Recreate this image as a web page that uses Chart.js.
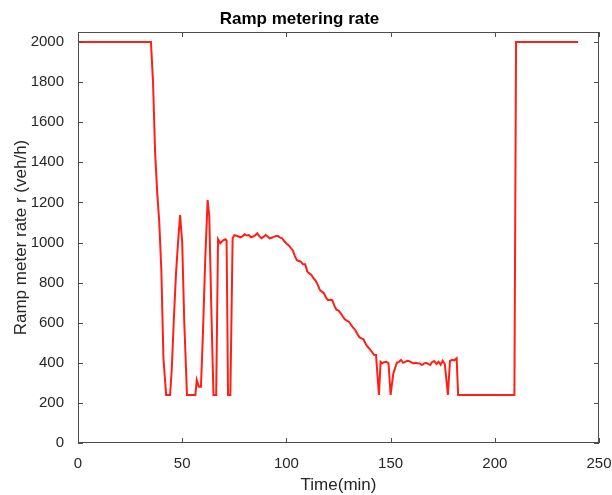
<!DOCTYPE html>
<html>
<head>
<meta charset="utf-8">
<title>Ramp metering rate</title>
<script src="https://cdn.jsdelivr.net/npm/chart.js@4/dist/chart.umd.min.js"></script>
<style>
    html, body { margin: 0; padding: 0; background: #ffffff; }
    #wrap { width: 612px; height: 495px; }
</style>
</head>
<body>
<div id="wrap"><canvas id="rampChart" width="612" height="495"></canvas></div>
<script>
// Temps (min) et débit du ramp metering (veh/h)
const timeMin = [
    0, 35, 36, 37, 38, 39, 40, 41, 42.3, 44.2, 45, 46, 47, 48, 49, 50, 51, 52.3,
    56.3, 57, 58, 59, 60, 61, 62.2, 63, 64, 65, 66.3, 67.2, 68.3, 69.5, 70.7, 71.3, 72, 73.1,
    74.2, 75, 76, 77, 78, 79, 80, 81, 82, 83, 84, 85, 86, 87, 88, 89, 90, 91, 92,
    93, 94, 95, 96, 97, 98, 99, 100, 101, 102, 103, 104, 105, 106, 107, 108, 109,
    110, 111, 112, 113, 114, 115, 116, 117, 118, 119, 120, 121, 122, 123, 124, 125,
    126, 127, 128, 129, 130, 131, 132, 133, 134, 135, 136, 137, 138, 139, 140, 141,
    142, 143, 144.4, 145.2, 146, 147, 148, 149, 150, 151.3, 153, 154, 155, 156,
    157, 158, 159, 160, 161, 162, 163, 164, 165, 166, 167, 168, 169, 170, 171, 172,
    173, 174, 175, 176, 177.5, 178.5, 179.5, 180.5, 181.7, 182.4, 209.4, 210.2, 240
];
const rateVeh = [
    2000, 2000, 1800, 1450, 1250, 1100, 860, 420, 240, 240, 370, 620, 840, 1000, 1137, 1000, 600, 240,
    240, 315, 280, 280, 560, 900, 1212, 1130, 660, 240, 240, 1016, 996, 1010, 1016, 1010, 240, 240,
    1021, 1037, 1034, 1030, 1026, 1032, 1041, 1035, 1037, 1026, 1030, 1035, 1046, 1032, 1021, 1028, 1037, 1030, 1021,
    1024, 1028, 1032, 1032, 1024, 1021, 1006, 995, 987, 975, 962, 935, 912, 908, 904, 891, 891,
    856, 846, 838, 822, 810, 790, 765, 755, 747, 725, 713, 715, 713, 685, 665, 660,
    648, 632, 617, 610, 605, 590, 575, 564, 545, 528, 522, 517, 495, 480, 468, 455,
    440, 439, 240, 405, 398, 403, 405, 398, 240, 347, 400, 405, 414, 400,
    405, 410, 408, 402, 397, 400, 398, 397, 389, 396, 400, 395, 389, 405, 408, 394,
    405, 390, 410, 394, 240, 410, 415, 412, 422, 240, 240, 2000, 2000
];
const xTickValues = [0, 50, 100, 150, 200, 250];
const yTickValues = [0, 200, 400, 600, 800, 1000, 1200, 1400, 1600, 1800, 2000];

const AXIS_COLOR = '#262626';
const BOX_COLOR = '#4d4d4d';
const FONT = 'Liberation Sans, Arial, Helvetica, sans-serif';

/**
 * Cadre style MATLAB : boîte complète et graduations vers l'intérieur
 */
const matlabBox = {
    id: 'matlabBox',
    afterDraw(chart) {
        const { ctx, chartArea: a, scales } = chart;
        const tick = 5;
        ctx.save();
        ctx.strokeStyle = BOX_COLOR;
        ctx.lineWidth = 1;
        ctx.strokeRect(a.left + 0.5, a.top + 0.5, a.right - a.left - 1, a.bottom - a.top - 1);
        ctx.beginPath();
        xTickValues.forEach(function (v) {
            const px = Math.round(scales.x.getPixelForValue(v)) + 0.5;
            ctx.moveTo(px, a.bottom);
            ctx.lineTo(px, a.bottom - tick);
            ctx.moveTo(px, a.top);
            ctx.lineTo(px, a.top + tick);
        });
        yTickValues.forEach(function (v) {
            const py = Math.round(scales.y.getPixelForValue(v)) + 0.5;
            ctx.moveTo(a.left, py);
            ctx.lineTo(a.left + tick, py);
            ctx.moveTo(a.right, py);
            ctx.lineTo(a.right - tick, py);
        });
        ctx.stroke();
        ctx.restore();
    }
};

// Pas de séparateur de milliers sur les graduations
function plainLabel(value) {
    return String(value);
}

/**
 * Initialisation du graphique
 */
function initRampChart() {
    const ctx = document.getElementById('rampChart');
    if (!ctx) return;

    const points = timeMin.map(function (t, i) {
        return { x: t, y: rateVeh[i] };
    });

    const config = {
        type: 'line',
        data: {
            datasets: [{
                data: points,
                borderColor: '#ff1f14',
                borderWidth: 2,
                pointRadius: 0,
                tension: 0,
                fill: false
            }]
        },
        options: {
            responsive: false,
            animation: false,
            layout: { padding: { left: 0, right: 13, top: 0, bottom: 0 } },
            plugins: {
                legend: { display: false },
                tooltip: { enabled: false },
                title: {
                    display: true,
                    text: 'Ramp metering rate',
                    color: '#000000',
                    font: { family: FONT, size: 17, weight: 'bold' },
                    padding: { top: 9, bottom: 2.6 }
                }
            },
            scales: {
                x: {
                    type: 'linear',
                    min: 0,
                    max: 250,
                    grid: { display: false },
                    border: { display: false },
                    afterBuildTicks: function (scale) {
                        scale.ticks = xTickValues.map(function (v) { return { value: v }; });
                    },
                    afterFit: function (scale) {
                        scale.height = 52;
                        scale.paddingLeft = 0;
                        scale.paddingRight = 0;
                    },
                    ticks: {
                        color: AXIS_COLOR,
                        font: { family: FONT, size: 15 },
                        padding: 4,
                        maxRotation: 0,
                        callback: plainLabel
                    },
                    title: {
                        display: true,
                        text: 'Time(min)',
                        color: AXIS_COLOR,
                        font: { family: FONT, size: 17 },
                        padding: { top: 0, bottom: -1 }
                    }
                },
                y: {
                    type: 'linear',
                    min: 0,
                    max: 2050,
                    grid: { display: false },
                    border: { display: false },
                    afterBuildTicks: function (scale) {
                        scale.ticks = yTickValues.map(function (v) { return { value: v }; });
                    },
                    afterFit: function (scale) {
                        scale.width = 78;
                        scale.paddingTop = 0;
                        scale.paddingBottom = 0;
                    },
                    ticks: {
                        color: AXIS_COLOR,
                        font: { family: FONT, size: 15 },
                        padding: 6,
                        callback: plainLabel
                    },
                    title: {
                        display: true,
                        text: 'Ramp meter rate r (veh/h)',
                        color: AXIS_COLOR,
                        font: { family: FONT, size: 17 },
                        padding: { top: 11, bottom: 0 }
                    }
                }
            }
        },
        plugins: [matlabBox]
    };

    new Chart(ctx, config);
}

// Initialisation au chargement du DOM
document.addEventListener('DOMContentLoaded', function () {
    initRampChart();
});
</script>
</body>
</html>
